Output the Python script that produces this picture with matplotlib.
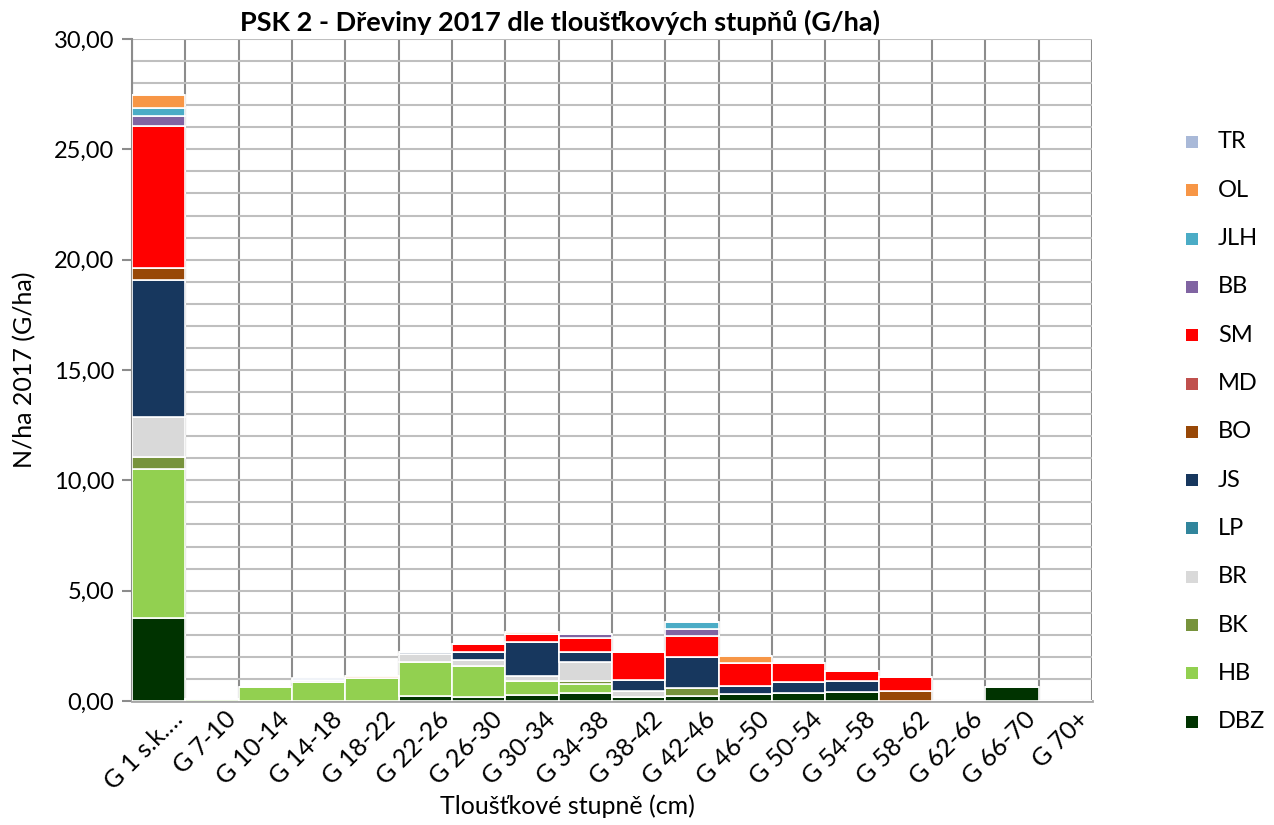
import matplotlib
matplotlib.use("Agg")
import matplotlib.pyplot as plt
import numpy as np
from matplotlib.patches import Rectangle
from matplotlib.ticker import MultipleLocator, FuncFormatter
from matplotlib.transforms import ScaledTranslation

plt.rcParams['font.family'] = ['Lato', 'DejaVu Sans']

categories = ["G 1 s.k.…", "G 7-10", "G 10-14", "G 14-18", "G 18-22", "G 22-26",
              "G 26-30", "G 30-34", "G 34-38", "G 38-42", "G 42-46", "G 46-50",
              "G 50-54", "G 54-58", "G 58-62", "G 62-66", "G 66-70", "G 70+"]

# basal area per hectare by species (stacked bottom to top)
DBZ = [3.77, 0, 0, 0, 0, 0.23, 0.18, 0.27, 0.35, 0.18, 0.24, 0.30, 0.38, 0.42, 0, 0, 0.62, 0]
HB  = [6.76, 0.08, 0.63, 0.85, 1.05, 1.54, 1.41, 0.63, 0.40, 0, 0, 0, 0, 0, 0, 0, 0, 0]
BK  = [0.55, 0, 0, 0, 0, 0, 0, 0, 0.17, 0, 0.33, 0, 0, 0, 0, 0, 0, 0]
BR  = [1.80, 0, 0, 0.12, 0, 0.34, 0.25, 0.23, 0.83, 0.29, 0, 0, 0, 0, 0, 0, 0, 0]
LP  = [0, 0, 0, 0, 0, 0, 0, 0, 0, 0, 0, 0, 0, 0, 0, 0, 0, 0]
JS  = [6.18, 0, 0, 0, 0, 0.12, 0.36, 1.56, 0.49, 0.48, 1.43, 0.38, 0.48, 0.50, 0, 0, 0, 0]
BO  = [0.57, 0, 0, 0, 0, 0, 0, 0, 0, 0, 0, 0, 0, 0, 0.47, 0, 0, 0]
MD  = [0, 0, 0, 0, 0, 0, 0, 0, 0, 0, 0, 0, 0, 0, 0, 0, 0, 0]
SM  = [6.41, 0, 0, 0, 0, 0, 0.38, 0.33, 0.60, 1.25, 0.96, 1.06, 0.88, 0.46, 0.61, 0, 0, 0]
BB  = [0.49, 0, 0, 0, 0, 0, 0, 0, 0.18, 0, 0.29, 0, 0, 0, 0, 0, 0, 0]
JLH = [0.36, 0, 0, 0, 0, 0, 0, 0, 0, 0, 0.31, 0, 0, 0, 0, 0, 0, 0]
OL  = [0.57, 0, 0, 0, 0.10, 0, 0, 0.12, 0, 0, 0, 0.31, 0, 0, 0, 0, 0, 0]
TR  = [0, 0, 0, 0.08, 0, 0, 0, 0, 0, 0, 0, 0, 0, 0, 0, 0, 0, 0]

species = ["DBZ", "HB", "BK", "BR", "LP", "JS", "BO", "MD", "SM", "BB", "JLH", "OL", "TR"]
values = [DBZ, HB, BK, BR, LP, JS, BO, MD, SM, BB, JLH, OL, TR]
colors = ["#003300", "#92D050", "#77933C", "#D9D9D9", "#31859C", "#17375E", "#984807",
          "#C0504D", "#FF0000", "#8064A2", "#4BACC6", "#F79646", "#A9B9D8"]

W, H = 1274, 825
fig = plt.figure(figsize=(W / 100, H / 100), dpi=100)
ax = fig.add_axes([132 / W, 1 - 701 / H, (1092 - 132) / W, (701 - 39) / H])

x = np.arange(len(categories))
bottom = np.zeros(len(categories))
for name, vals, col in zip(species, values, colors):
    v = np.array(vals, dtype=float)
    ax.bar(x, v, width=1.0, bottom=bottom, color=col, edgecolor="white",
           linewidth=1.2, zorder=3, label=name)
    bottom += v

ax.set_xlim(-0.5, len(categories) - 0.5)
ax.set_ylim(0, 30)

ax.yaxis.set_major_locator(MultipleLocator(5))
ax.yaxis.set_minor_locator(MultipleLocator(1))
ax.yaxis.set_major_formatter(FuncFormatter(lambda v, p: f"{v:.2f}".replace(".", ",")))
ax.set_xticks(x)
ax.set_xticks(np.arange(len(categories) + 1) - 0.5, minor=True)

ax.grid(which="both", axis="y", color="#BFBFBF", linewidth=1.5, zorder=0)
ax.grid(which="minor", axis="x", color="#8C8C8C", linewidth=1.5, zorder=0)
ax.set_axisbelow(True)

for s in ["top", "right"]:
    ax.spines[s].set_visible(False)
ax.spines["left"].set_color("#8C8C8C")
ax.spines["left"].set_linewidth(1.5)
ax.spines["bottom"].set_color("#A6A6A6")
ax.spines["bottom"].set_linewidth(2)

ax.tick_params(axis="y", which="major", length=7, width=1.5, color="#8C8C8C",
               labelsize=17, pad=6)
ax.tick_params(axis="y", which="minor", length=0)
ax.tick_params(axis="x", which="both", length=0, labelsize=18, pad=6)

ax.set_xticklabels(categories, rotation=45, ha="right", va="center",
                   rotation_mode="anchor")
for lbl in ax.get_xticklabels():
    lbl.set_transform(lbl.get_transform() + ScaledTranslation(0.20, -0.06, fig.dpi_scale_trans))

ax.set_ylabel("N/ha 2017 (G/ha)", fontsize=18, labelpad=12)
fig.text(567 / W, 1 - 806 / H, "Tloušťkové stupně (cm)", fontsize=18,
         ha="center", va="center")
fig.text(560 / W, 1 - 22 / H, "PSK 2 - Dřeviny 2017 dle tloušťkových stupňů (G/ha)",
         fontsize=19.5, fontweight="bold", ha="center", va="center")

# legend: top entry is the last stacked series
y0, dy = 142, 48.3
for i, (name, col) in enumerate(zip(species[::-1], colors[::-1])):
    yc = y0 + i * dy
    fig.add_artist(Rectangle((1186 / W, 1 - (yc + 6) / H), 12 / W, 12 / H,
                             transform=fig.transFigure, facecolor=col,
                             edgecolor="none"))
    fig.text(1218 / W, 1 - yc / H, name, fontsize=17, ha="left", va="center")

fig.savefig("out.png", dpi=100)
